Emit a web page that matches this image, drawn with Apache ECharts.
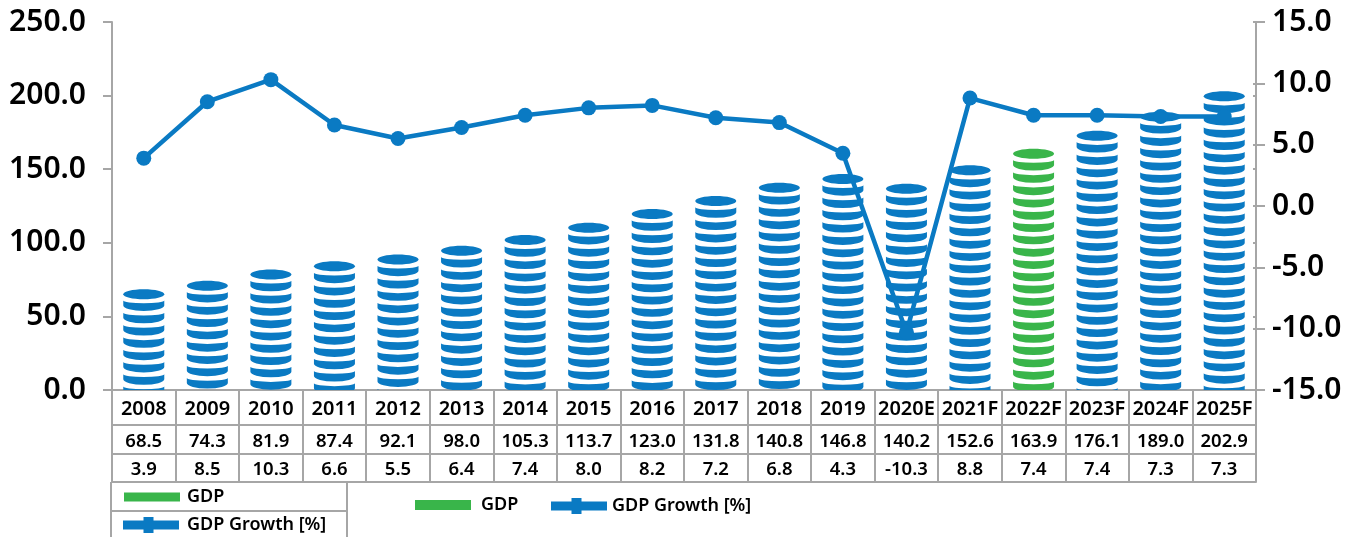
<!DOCTYPE html>
<html>
<head>
<meta charset="utf-8">
<style>html,body{margin:0;background:#fff}#c{width:1354px;height:537px}</style>
<script src="https://cdn.jsdelivr.net/npm/echarts@6/dist/echarts.min.js"></script>
</head>
<body>
<div id="c"></div>
<script>
const years = ['2008','2009','2010','2011','2012','2013','2014','2015','2016','2017','2018','2019','2020E','2021F','2022F','2023F','2024F','2025F'];
const gdp = [68.5,74.3,81.9,87.4,92.1,98.0,105.3,113.7,123.0,131.8,140.8,146.8,140.2,152.6,163.9,176.1,189.0,202.9];
const growth = [3.9,8.5,10.3,6.6,5.5,6.4,7.4,8.0,8.2,7.2,6.8,4.3,-10.3,8.8,7.4,7.4,7.3,7.3];
const highlightYear = '2022F';

const BLUE = '#0A7AC3', GREEN = '#39B54A', GRID = '#A6A6A6';
const FONT = '"Noto Sans", "Open Sans", sans-serif';
const COIN_PATH = 'M0 0A20.5 2.8 0 0 0 41 0L41 5A20.5 5.5 0 0 1 0 5Z';
const COIN_W = 41, COIN_H = 10.5, COIN_STEP = 12.3, TOP_H = 10;

// A stack of coins hanging from the value: a full ellipse on top, crescents below,
// with the grid clip cutting the last coin at the baseline.
function renderCoins(params, api) {
  const i = api.value(0);
  const top = api.coord([i, api.value(1)]);
  const base = api.coord([i, 0]);
  const fill = years[i] === highlightYear ? GREEN : BLUE;
  const x = top[0] - COIN_W / 2;
  const children = [{
    type: 'ellipse',
    shape: { cx: top[0], cy: top[1] + TOP_H / 2, rx: COIN_W / 2, ry: TOP_H / 2 },
    style: { fill }
  }];
  for (let y = top[1] + COIN_STEP - 1; y < base[1]; y += COIN_STEP) {
    children.push({
      type: 'path',
      shape: { pathData: COIN_PATH, x, y, width: COIN_W, height: COIN_H, layout: 'cover' },
      style: { fill }
    });
  }
  return { type: 'group', children };
}

// One axis per table row; its line closes the row and its ticks split the cells.
const rowAxis = (labels, offset, tickLen, margin, fontSize) => ({
  type: 'category', data: labels, position: 'bottom', offset,
  axisLine: { show: true, onZero: false, lineStyle: { color: GRID, width: 2 } },
  axisTick: { show: tickLen > 0, length: tickLen, alignWithLabel: false, interval: 0, lineStyle: { color: GRID, width: 2 } },
  axisLabel: { show: labels.length > 0, interval: 0, margin, color: '#000', fontFamily: FONT, fontSize, fontWeight: 600 }
});
const fmt1 = v => v.toFixed(1);

const valueAxis = (min, max, interval, margin) => ({
  type: 'value', min, max, interval,
  splitLine: { show: false },
  axisLine: { show: true, lineStyle: { color: GRID, width: 2 } },
  axisTick: { show: true, length: 9, lineStyle: { color: GRID, width: 2 } },
  axisLabel: { margin, formatter: fmt1, color: '#000', fontFamily: FONT, fontSize: 30, fontWeight: 600 }
});
// Unlabelled twin so the tick marks cross the axis line.
const innerTicks = (min, max, interval) => ({
  type: 'value', min, max, interval,
  splitLine: { show: false }, axisLine: { show: false }, axisLabel: { show: false },
  axisTick: { show: true, inside: true, length: 3, lineStyle: { color: GRID, width: 2 } }
});

const GROWTH_ICON = 'path://M0 3.5H20.5V0H30.5V3.5H56V12.5H30.5V16H20.5V12.5H0Z';
const legendItem = (name, left, top, icon, itemHeight, textPadding) => ({
  left, top, padding: 0, data: [{ name, icon }], selectedMode: false,
  itemWidth: 56, itemHeight, itemGap: 0,
  textStyle: { color: '#000', fontFamily: FONT, fontSize: 18, fontWeight: 600, padding: textPadding }
});

const tableLine = (x1, y1, x2, y2) => ({
  type: 'line', shape: { x1, y1, x2, y2 }, style: { stroke: GRID, lineWidth: 2 }, silent: true
});

const chart = echarts.init(document.getElementById('c'));
chart.setOption({
  animation: false,
  backgroundColor: '#fff',
  grid: { left: 112, right: 98, top: 22, bottom: 147 },
  xAxis: [
    rowAxis(years, 0, 35, 9, 20),
    rowAxis(gdp.map(fmt1), 35, 29, 7, 18.5),
    rowAxis(growth.map(fmt1), 64, 28, 6, 18.5),
    rowAxis([], 92, 0, 0, 18)
  ],
  yAxis: [
    valueAxis(0, 250, 50, 26),
    valueAxis(-15, 15, 5, 16),
    innerTicks(0, 250, 50),
    { ...innerTicks(-15, 15, 5), position: 'right' }
  ],
  legend: [
    legendItem('GDP', 124, 488, 'rect', 9, [6, 0, 0, 2]),
    legendItem('GDP Growth [%]', 123, 516, GROWTH_ICON, 16, [0, 0, 0, 3]),
    legendItem('GDP', 415, 496, 'rect', 10, [6, 0, 0, 5]),
    legendItem('GDP Growth [%]', 551, 497, GROWTH_ICON, 16, [0, 0, 2, 0])
  ],
  series: [
    {
      name: 'GDP', type: 'custom', xAxisIndex: 0, yAxisIndex: 0, clip: true,
      renderItem: renderCoins, encode: { x: 0, y: 1 },
      itemStyle: { color: GREEN }, z: 2,
      data: gdp.map((v, i) => [i, v])
    },
    {
      name: 'GDP Growth [%]', type: 'line', xAxisIndex: 0, yAxisIndex: 1,
      symbol: 'circle', symbolSize: 15, showSymbol: true,
      lineStyle: { color: BLUE, width: 4.5 }, itemStyle: { color: BLUE },
      z: 5, data: growth
    }
  ],
  graphic: [
    tableLine(111, 482, 111, 537),
    tableLine(347, 482, 347, 537),
    tableLine(111, 511, 347, 511)
  ]
});
</script>
</body>
</html>
